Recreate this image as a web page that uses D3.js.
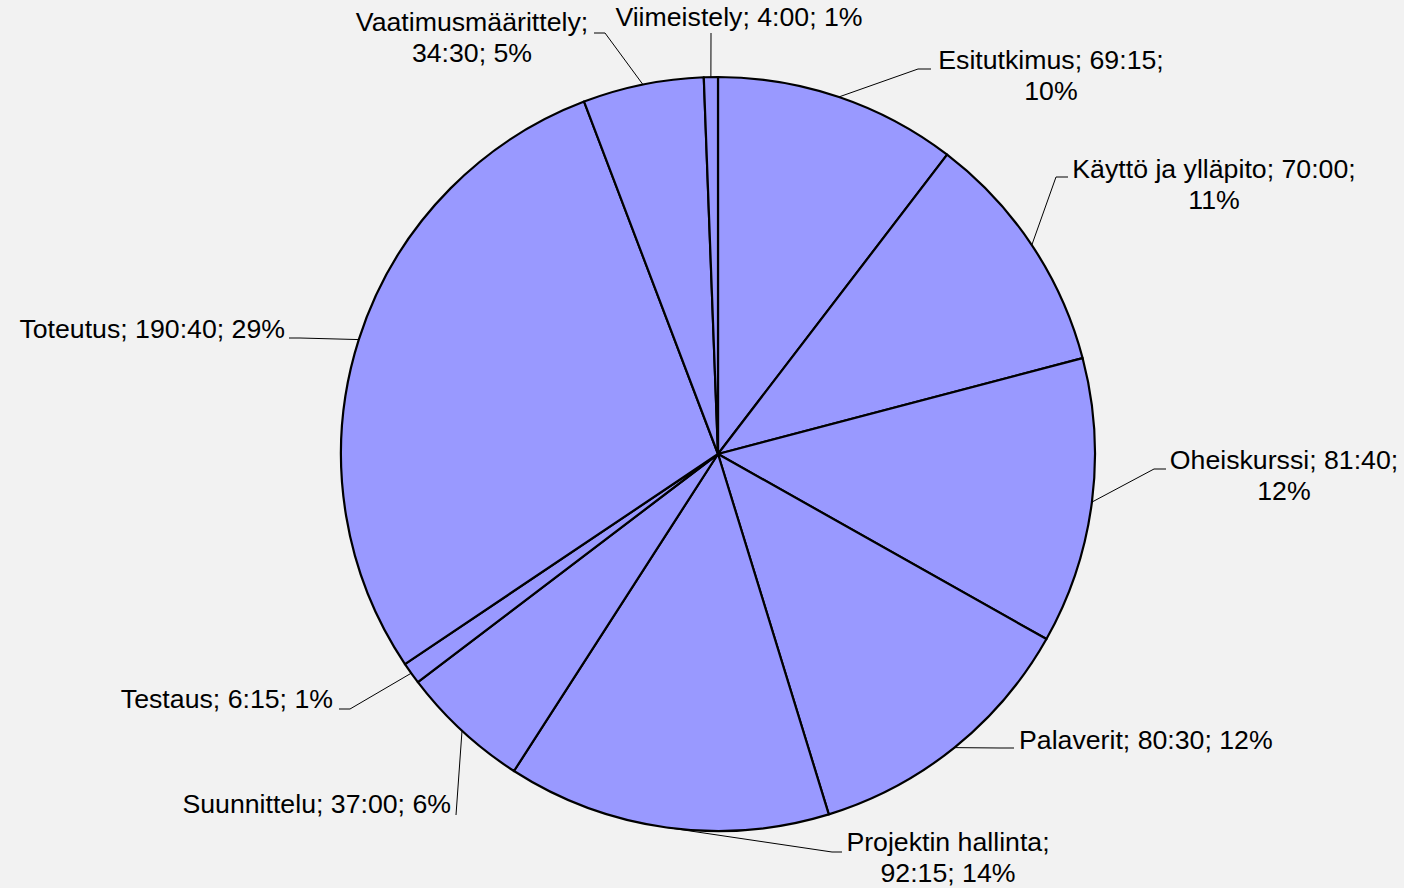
<!DOCTYPE html>
<html>
<head>
<meta charset="utf-8">
<script src="https://cdn.jsdelivr.net/npm/d3@7"></script>
<style>
  html, body { margin: 0; padding: 0; background: #f2f2f2; }
  svg text { font-family: "Liberation Sans", Arial, sans-serif; font-size: 26.7px; fill: #000; }
</style>
</head>
<body>
<div id="chart"></div>
<script>
// data
const categories = ["Esitutkimus", "Käyttö ja ylläpito", "Oheiskurssi", "Palaverit",
  "Projektin hallinta", "Suunnittelu", "Testaus", "Toteutus", "Vaatimusmäärittely", "Viimeistely"];
const times = ["69:15", "70:00", "81:40", "80:30", "92:15", "37:00", "6:15", "190:40", "34:30", "4:00"];

// label layout (text position, line break, leader elbow)
// wrap: 0 = one line, 1 = break before percent, 2 = break after name
const labelLayout = [
  { x: 1051, y: 69,  anchor: "middle", wrap: 1, elbow: [918, 69],  end: [931, 69] },
  { x: 1214, y: 178, anchor: "middle", wrap: 1, elbow: [1056, 177], end: [1068, 177] },
  { x: 1284, y: 469, anchor: "middle", wrap: 1, elbow: [1154, 469], end: [1166, 469] },
  { x: 1019, y: 749, anchor: "start",  wrap: 0, elbow: [1000, 748], end: [1014, 748] },
  { x: 948,  y: 851, anchor: "middle", wrap: 2, elbow: [832, 852], end: [842, 852] },
  { x: 451,  y: 813, anchor: "end",    wrap: 0, elbow: [456, 815], end: [456, 815] },
  { x: 333,  y: 708, anchor: "end",    wrap: 0, elbow: [350, 709], end: [339, 709] },
  { x: 285,  y: 338, anchor: "end",    wrap: 0, elbow: [300, 338], end: [289, 338] },
  { x: 472,  y: 31,  anchor: "middle", wrap: 2, elbow: [605, 33],  end: [594, 33] },
  { x: 739,  y: 26,  anchor: "middle", wrap: 0, elbow: [711, 33],  end: [711, 33] }
];

const width = 1404, height = 888;
const cx = 718, cy = 454, radius = 377;
const lineHeight = 31;

const minutes = times.map(t => { const p = t.split(":"); return +p[0] * 60 + +p[1]; });
const total = d3.sum(minutes);
const data = categories.map((c, i) => ({
  name: c, time: times[i], value: minutes[i],
  pct: Math.round(minutes[i] / total * 100), layout: labelLayout[i]
}));

const svg = d3.select("#chart").append("svg")
  .attr("width", width)
  .attr("height", height);

svg.append("rect").attr("width", width).attr("height", height).attr("fill", "#f2f2f2");

const pie = d3.pie().sort(null).value(d => d.value);
const arc = d3.arc().innerRadius(0).outerRadius(radius);
const edgeArc = d3.arc().innerRadius(radius).outerRadius(radius);

const g = svg.append("g").attr("transform", `translate(${cx},${cy})`);
const arcs = pie(data);

g.selectAll("path.slice")
  .data(arcs)
  .enter()
  .append("path")
  .attr("class", "slice")
  .attr("d", arc)
  .attr("fill", "#9999ff")
  .attr("stroke", "#000")
  .attr("stroke-width", 2.2)
  .attr("stroke-linejoin", "round");

// leader lines
svg.selectAll("polyline.leader")
  .data(arcs)
  .enter()
  .append("polyline")
  .attr("class", "leader")
  .attr("fill", "none")
  .attr("stroke", "#000")
  .attr("stroke-width", 1)
  .attr("points", d => {
    const p = edgeArc.centroid(d);
    const L = d.data.layout;
    return [[p[0] + cx, p[1] + cy], L.elbow, L.end].map(q => q.join(",")).join(" ");
  });

// labels
const labels = svg.selectAll("text.label")
  .data(data)
  .enter()
  .append("text")
  .attr("class", "label")
  .attr("text-anchor", d => d.layout.anchor)
  .attr("x", d => d.layout.x)
  .attr("y", d => d.layout.y);

labels.each(function(d) {
  let lines;
  if (d.layout.wrap === 1) lines = [`${d.name}; ${d.time};`, `${d.pct}%`];
  else if (d.layout.wrap === 2) lines = [`${d.name};`, `${d.time}; ${d.pct}%`];
  else lines = [`${d.name}; ${d.time}; ${d.pct}%`];
  d3.select(this).selectAll("tspan")
    .data(lines)
    .enter()
    .append("tspan")
    .attr("x", d.layout.x)
    .attr("dy", (l, i) => i === 0 ? 0 : lineHeight)
    .text(l => l);
});
</script>
</body>
</html>
